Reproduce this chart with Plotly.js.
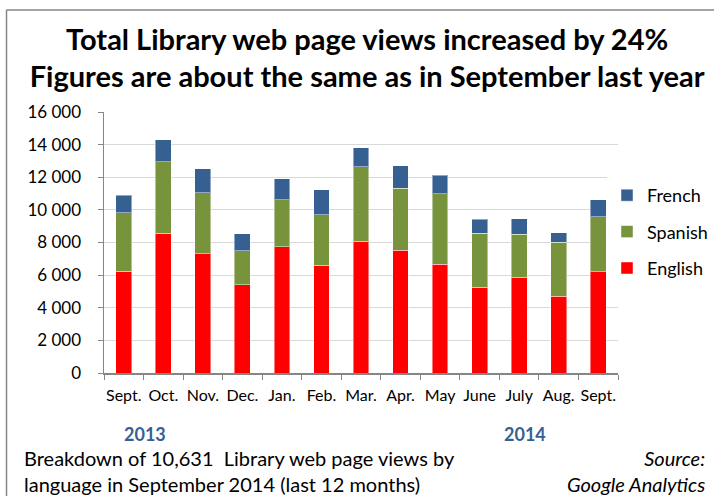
<!DOCTYPE html>
<html>
<head>
<meta charset="utf-8">
<script src="https://cdn.plot.ly/plotly-3.0.1.min.js"></script>
<style>html,body{margin:0;padding:0;background:#fff;}#chart{width:714px;height:496px;}</style>
</head>
<body>
<div id="chart"></div>
<script>
const categories = ["Sept. 2013","Oct.","Nov.","Dec.","Jan.","Feb.","Mar.","Apr.","May","June","July","Aug.","Sept. 2014"];
const tickLabels = ["Sept.","Oct.","Nov.","Dec.","Jan.","Feb.","Mar.","Apr.","May","June","July","Aug.","Sept."];
const english = [6230, 8560, 7300, 5410, 7740, 6620, 8070, 7540, 6680, 5250, 5860, 4700, 6210];
const spanish = [3580, 4380, 3740, 2090, 2880, 3090, 4560, 3800, 4310, 3310, 2660, 3310, 3370];
const french  = [1080, 1360, 1470, 1040, 1290, 1510, 1170, 1350, 1120,  860,  940,  580, 1051];
const yTicks = [0, 2000, 4000, 6000, 8000, 10000, 12000, 14000, 16000];

const FONT = "Lato, Noto Sans, sans-serif";
const barLine = {color: "rgba(255,255,255,0.45)", width: 1};
const traces = [
  {type: "bar", name: "English", legendgroup: "e", legendrank: 3, x: categories, y: english, marker: {color: "#FF0000", line: barLine}},
  {type: "bar", name: "Spanish", legendgroup: "s", legendrank: 2, x: categories, y: spanish, marker: {color: "#77933C", line: barLine}},
  {type: "bar", name: "French",  legendgroup: "f", legendrank: 1, x: categories, y: french,  marker: {color: "#376092", line: barLine}}
];

const L = 104, R = 618, T = 112, B = 373, W = 714, H = 496;
const px = v => (v - L) / (R - L);
const py = v => (B - v) / (B - T);

const layout = {
  width: W, height: H,
  margin: {l: L, r: W - R, t: T, b: H - B, pad: 0, autoexpand: false},
  paper_bgcolor: "#fff", plot_bgcolor: "#fff",
  barmode: "stack", bargap: 0.6,
  separators: ". ",
  font: {family: FONT, color: "#000"},
  title: {
    text: "<b>Total Library web page views increased by 24%<br>Figures are about the same as in September last year</b>",
    font: {size: 29, family: FONT, color: "#000"},
    x: 0.512, xanchor: "center", y: 0.9, yanchor: "middle", xref: "paper", yref: "container"
  },
  xaxis: {
    type: "category", tickvals: categories, ticktext: tickLabels, tickangle: 0,
    tickson: "boundaries", ticks: "outside", ticklen: 5, tickcolor: "#868686",
    showline: true, linecolor: "#868686", linewidth: 1.5,
    tickfont: {size: 16, family: FONT}, ticklabelstandoff: 7, fixedrange: true
  },
  yaxis: {
    range: [0, 16000], tickvals: yTicks, tickformat: ",d",
    ticks: "outside", ticklen: 5, tickcolor: "#868686",
    showline: true, linecolor: "#868686", linewidth: 1.5,
    showgrid: true, gridcolor: "#d9d9d9", gridwidth: 1,
    tickfont: {size: 17, family: FONT}, ticklabelstandoff: 13, fixedrange: true
  },
  legend: {
    x: px(607), xanchor: "left", y: py(177), yanchor: "top",
    traceorder: "grouped", font: {size: 18, family: FONT},
    tracegroupgap: 10, itemclick: false
  },
  showlegend: true,
  annotations: [
    {text: "<b>2013</b>", x: px(145), y: py(434), xref: "paper", yref: "paper", showarrow: false,
     font: {size: 18, color: "#376092", family: FONT}, xanchor: "center", yanchor: "middle"},
    {text: "<b>2014</b>", x: px(525), y: py(434), xref: "paper", yref: "paper", showarrow: false,
     font: {size: 18, color: "#376092", family: FONT}, xanchor: "center", yanchor: "middle"},
    {text: "Breakdown of 10,631  Library web page views by<br>language in September 2014 (last 12 months)",
     x: px(22), y: py(471), xref: "paper", yref: "paper", align: "left",
     showarrow: false, font: {size: 20, family: FONT}, xanchor: "left", yanchor: "middle"},
    {text: "<i>Source:</i><br><i>Google Analytics</i>", x: px(707), y: py(471), xref: "paper", yref: "paper",
     align: "right", showarrow: false, font: {size: 20, family: FONT}, xanchor: "right", yanchor: "middle"}
  ],
  shapes: [
    {type: "line", xref: "paper", yref: "paper", x0: px(6.5), x1: px(6.5), y0: py(10), y1: py(520),
     line: {color: "#868686", width: 1.5}},
    {type: "line", xref: "paper", yref: "paper", x0: px(6.5), x1: px(740), y0: py(10), y1: py(10),
     line: {color: "#868686", width: 1.5}}
  ]
};

Plotly.newPlot("chart", traces, layout, {displayModeBar: false, staticPlot: true});
</script>
</body>
</html>
